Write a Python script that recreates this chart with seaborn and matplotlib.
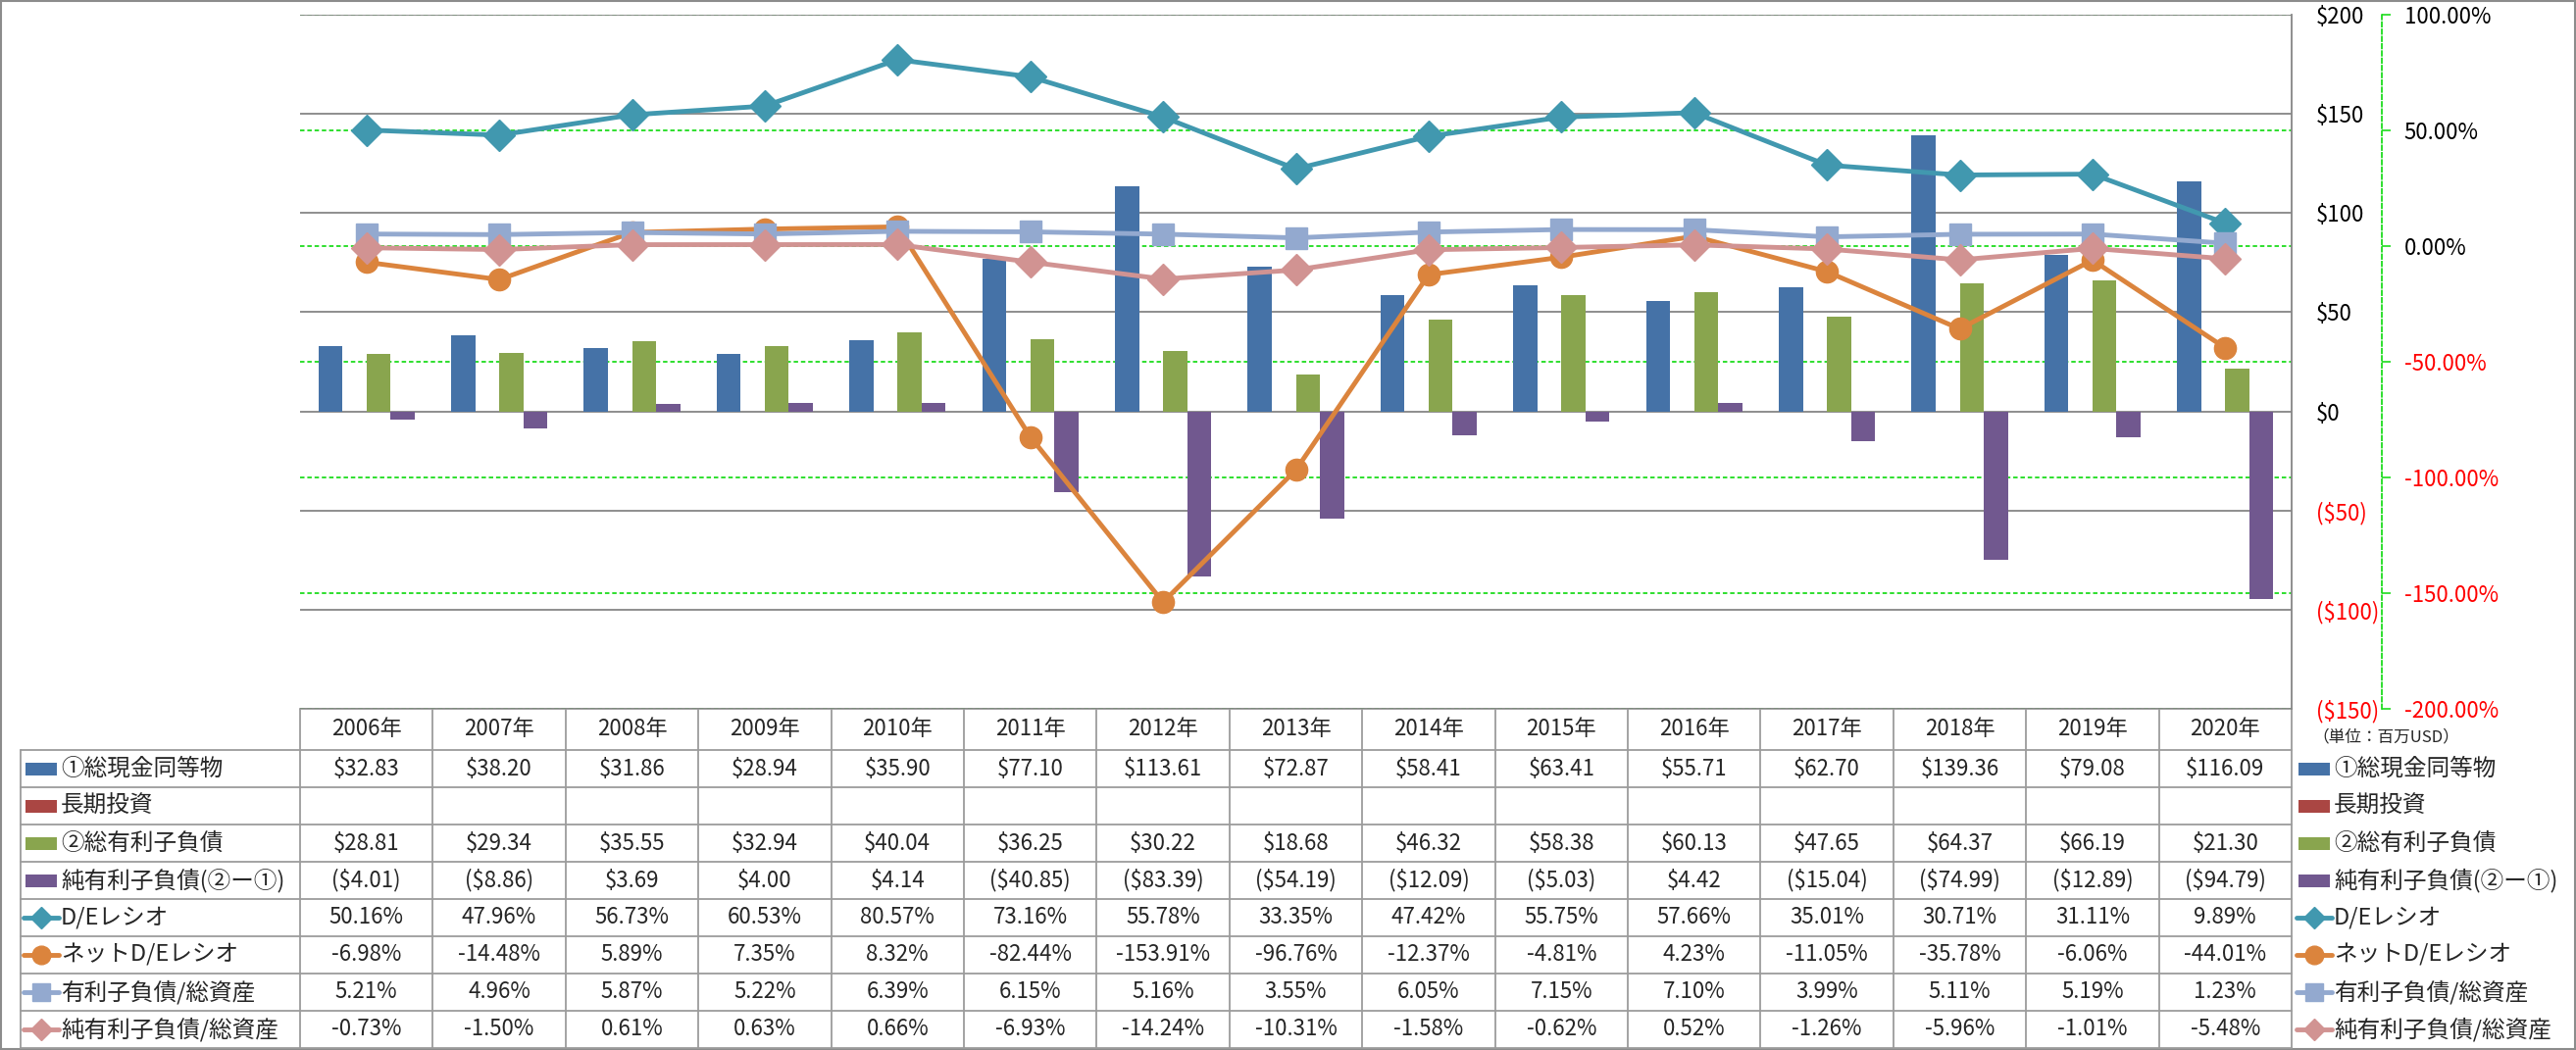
import numpy as np
import pandas as pd
import matplotlib
matplotlib.use("Agg")
import matplotlib.pyplot as plt
import seaborn as sns
from matplotlib.patches import Rectangle

# ---------------- data ----------------
years = ["2006年", "2007年", "2008年", "2009年", "2010年", "2011年", "2012年", "2013年",
         "2014年", "2015年", "2016年", "2017年", "2018年", "2019年", "2020年"]
cash = [32.83, 38.20, 31.86, 28.94, 35.90, 77.10, 113.61, 72.87, 58.41, 63.41, 55.71, 62.70, 139.36, 79.08, 116.09]
long_inv = [None] * 15
debt = [28.81, 29.34, 35.55, 32.94, 40.04, 36.25, 30.22, 18.68, 46.32, 58.38, 60.13, 47.65, 64.37, 66.19, 21.30]
net_debt = [-4.01, -8.86, 3.69, 4.00, 4.14, -40.85, -83.39, -54.19, -12.09, -5.03, 4.42, -15.04, -74.99, -12.89, -94.79]
de_ratio = [50.16, 47.96, 56.73, 60.53, 80.57, 73.16, 55.78, 33.35, 47.42, 55.75, 57.66, 35.01, 30.71, 31.11, 9.89]
net_de = [-6.98, -14.48, 5.89, 7.35, 8.32, -82.44, -153.91, -96.76, -12.37, -4.81, 4.23, -11.05, -35.78, -6.06, -44.01]
debt_assets = [5.21, 4.96, 5.87, 5.22, 6.39, 6.15, 5.16, 3.55, 6.05, 7.15, 7.10, 3.99, 5.11, 5.19, 1.23]
net_debt_assets = [-0.73, -1.50, 0.61, 0.63, 0.66, -6.93, -14.24, -10.31, -1.58, -0.62, 0.52, -1.26, -5.96, -1.01, -5.48]

bar_series = ["①総現金同等物", "長期投資", "②総有利子負債", "純有利子負債(②ー①)"]
bar_data = [cash, long_inv, debt, net_debt]
bar_colors = ["#4572A7", "#AA4643", "#89A54E", "#71588F"]

line_series = ["D/Eレシオ", "ネットD/Eレシオ", "有利子負債/総資産", "純有利子負債/総資産"]
line_data = [de_ratio, net_de, debt_assets, net_debt_assets]
line_colors = ["#4198AF", "#DB843D", "#93A9CF", "#D19392"]
line_markers = ["D", "o", "s", "D"]

usd_ticks = [-150, -100, -50, 0, 50, 100, 150, 200]
pct_ticks = [-200, -150, -100, -50, 0, 50, 100]
unit_label = "（単位：百万USD）"

# ---------------- setup ----------------
sns.set_style("white")
plt.rcParams["font.family"] = ["Noto Sans CJK JP", "DejaVu Sans"]

W, H, DPI = 2627, 1071, 100
fig = plt.figure(figsize=(W / DPI, H / DPI), dpi=DPI)
fig.patch.set_facecolor("white")

PL, PR, PT, PB = 306, 2337, 15, 723
pos = [PL / W, 1 - PB / H, (PR - PL) / W, (PB - PT) / H]
GRID_GRAY = "#868686"
GREEN = "#1EDC1E"
NUM_FS = 16
JP_FS = 17

# background axes for the green (secondary) gridlines
ax_bg = fig.add_axes(pos, zorder=0)
ax_bg.set_xlim(-0.5, len(years) - 0.5)
ax_bg.set_ylim(min(pct_ticks), max(pct_ticks))
for t in pct_ticks:
    ax_bg.axhline(t, color=GREEN, lw=1.3, linestyle=(0, (2.5, 1.6)))
ax_bg.set_axis_off()

# primary axes: bars
ax1 = fig.add_axes(pos, zorder=1)
ax1.patch.set_visible(False)
rows = []
for name, vals in zip(bar_series, bar_data):
    for y, v in zip(years, vals):
        rows.append({"year": y, "series": name, "value": np.nan if v is None else float(v)})
df = pd.DataFrame(rows).dropna(subset=["value"])
sns.barplot(data=df, x="year", y="value", hue="series", order=years, hue_order=bar_series,
            palette=dict(zip(bar_series, bar_colors)), width=0.724, gap=0, dodge=True,
            errorbar=None, saturation=1, legend=False, linewidth=0, ax=ax1)

# secondary axes: lines
ax2 = ax1.twinx()
ax2.set_zorder(2)
ax2.patch.set_visible(False)
xpos = np.arange(len(years))
for name, vals, c, m in zip(line_series, line_data, line_colors, line_markers):
    sns.lineplot(x=xpos, y=vals, ax=ax2, color=c, marker=m, markersize=16, linewidth=3.5,
                 markeredgecolor=c, markeredgewidth=1, legend=False)

# primary axis formatting (after twinx, which moves ticks left)
ax1.set_xlim(-0.5, len(years) - 0.5)
ax1.set_ylim(min(usd_ticks), max(usd_ticks))
ax1.set_xlabel("")
ax1.set_ylabel("")
ax1.tick_params(axis="x", length=0, labelbottom=False)
for s in ["left", "top", "bottom"]:
    ax1.spines[s].set_visible(False)
ax1.spines["right"].set_visible(True)
ax1.spines["right"].set_color(GRID_GRAY)
ax1.spines["right"].set_linewidth(1.3)
ax1.yaxis.tick_right()
ax1.set_yticks(usd_ticks)
ax1.set_yticklabels([f"${t}" if t >= 0 else f"(${-t})" for t in usd_ticks], fontsize=NUM_FS)
for lab, t in zip(ax1.get_yticklabels(), usd_ticks):
    lab.set_color("black" if t >= 0 else "red")
ax1.tick_params(axis="y", length=0, pad=18, labelleft=False, labelright=True)
ax1.yaxis.grid(True, color=GRID_GRAY, lw=1.3)
ax1.xaxis.grid(False)
ax1.set_axisbelow(True)

# secondary axis formatting
ax2.set_xlim(-0.5, len(years) - 0.5)
ax2.set_ylim(min(pct_ticks), max(pct_ticks))
ax2.set_xlabel("")
ax2.set_ylabel("")
for s in ["left", "top", "bottom"]:
    ax2.spines[s].set_visible(False)
ax2.spines["right"].set_position(("axes", (2429 - PL) / (PR - PL)))
ax2.spines["right"].set_color(GREEN)
ax2.spines["right"].set_linestyle((0, (2.5, 1.6)))
ax2.spines["right"].set_linewidth(1.3)
ax2.set_yticks(pct_ticks)
ax2.set_yticklabels([f"{t:.2f}%" for t in pct_ticks], fontsize=NUM_FS)
for lab, t in zip(ax2.get_yticklabels(), pct_ticks):
    lab.set_color("black" if t >= 0 else "red")
ax2.tick_params(axis="y", direction="out", length=6.5, width=1.2, color=GREEN, pad=10)
ax2.grid(False)

# ---------------- data table & legends ----------------
ax_t = fig.add_axes([0, 0, 1, 1], zorder=-1)
ax_t.set_xlim(0, W)
ax_t.set_ylim(H, 0)
ax_t.set_axis_off()

TBL_GRAY = "#9C9C9C"
cw = (PR - PL) / len(years)
xb = [PL + k * cw for k in range(len(years) + 1)]
TL = 21
HDR_BOT = 765
RH = 38
row_tops = [HDR_BOT + r * RH for r in range(9)]

ax_t.plot([PL, PR], [PB, PB], color=TBL_GRAY, lw=1.3)
for yy in row_tops:
    ax_t.plot([TL, PR], [yy, yy], color=TBL_GRAY, lw=1.3)
for xx in xb:
    ax_t.plot([xx, xx], [PB, row_tops[-1]], color=TBL_GRAY, lw=1.3)
ax_t.plot([TL, TL], [HDR_BOT, row_tops[-1]], color=TBL_GRAY, lw=1.3)

for k, y in enumerate(years):
    ax_t.text(xb[k] + cw / 2, (PB + HDR_BOT) / 2, y, ha="center", va="center", fontsize=NUM_FS)


def fmt_usd(v):
    if v is None:
        return ""
    return f"${v:.2f}" if v >= 0 else f"(${-v:.2f})"


def fmt_pct(v):
    return f"{v:.2f}%"


all_names = bar_series + line_series
all_colors = bar_colors + line_colors
all_cells = [[fmt_usd(v) for v in vals] for vals in bar_data] + \
            [[fmt_pct(v) for v in vals] for vals in line_data]

leg_ms = {"D": 11, "o": 13.5, "s": 13}
for r, (name, col, cells) in enumerate(zip(all_names, all_colors, all_cells)):
    yc = row_tops[r] + RH / 2
    for k, txt in enumerate(cells):
        ax_t.text(xb[k] + cw / 2, yc, txt, ha="center", va="center", fontsize=NUM_FS)
    for kx0, kx1, tx in [(26, 58, 62), (2344, 2376, 2380)]:
        if r < len(bar_series):
            ax_t.add_patch(Rectangle((kx0, yc - 6.5), kx1 - kx0, 13, color=col, lw=0))
        else:
            m = line_markers[r - len(bar_series)]
            ax_t.plot([kx0 - 2, kx1 + 2], [yc, yc], color=col, lw=3.5, solid_capstyle="round")
            ax_t.plot([(kx0 + kx1) / 2], [yc], marker=m, ms=leg_ms[m], color=col, mec=col)
        ax_t.text(tx, yc, name, ha="left", va="center", fontsize=JP_FS)

ax_t.text(2358, 752, unit_label, ha="left", va="center", fontsize=12)

# outer border
ax_t.add_patch(Rectangle((1, 1), W - 2, H - 2, fill=False, edgecolor="#8C8C8C", lw=1.5))

fig.savefig("out.png", dpi=DPI, facecolor="white")
